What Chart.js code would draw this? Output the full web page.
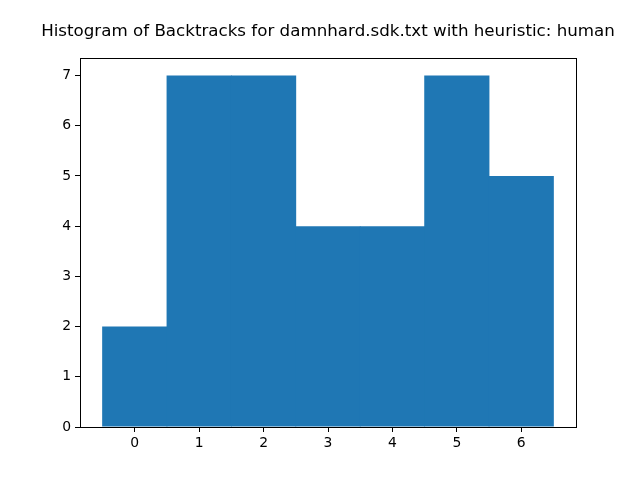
<!DOCTYPE html>
<html>
<head>
<meta charset="utf-8">
<script src="https://cdn.jsdelivr.net/npm/chart.js@4"></script>
<style>
  body { margin: 0; background: #fff; }
</style>
</head>
<body>
<canvas id="myChart" width="640" height="480"></canvas>
<script>
const bins = [0, 1, 2, 3, 4, 5, 6];
const counts = [2, 7, 7, 4, 4, 7, 5];
const yTicks = [0, 1, 2, 3, 4, 5, 6, 7];
const titleText = 'Histogram of Backtracks for damnhard.sdk.txt with heuristic: human';

// box round the axes and a title centred over the plot, like matplotlib
const frame = {
  id: 'frame',
  afterDraw(chart) {
    const a = chart.chartArea;
    const c = chart.ctx;
    c.save();
    c.strokeStyle = '#000';
    c.lineWidth = 1;
    c.strokeRect(Math.round(a.left) + 0.5, Math.round(a.top) + 0.5,
                 Math.round(a.right - a.left), Math.round(a.bottom - a.top));
    c.fillStyle = '#000';
    c.font = '16.7px "DejaVu Sans"';
    c.textAlign = 'center';
    c.textBaseline = 'middle';
    c.fillText(titleText, (a.left + a.right) / 2, 32);
    c.restore();
  }
};

const ctx = document.getElementById('myChart');
new Chart(ctx, {
  type: 'bar',
  data: {
    datasets: [{
      data: bins.map((b, i) => ({ x: b, y: counts[i] })),
      backgroundColor: '#1f77b4',
      borderWidth: 0,
      inflateAmount: 0,
      // a hair over 1 so neighbouring bars overlap and leave no seam
      barPercentage: 1.012,
      categoryPercentage: 1
    }]
  },
  options: {
    responsive: false,
    animation: false,
    devicePixelRatio: 1,
    layout: { padding: { left: 0, right: 64, top: 58, bottom: 0 } },
    plugins: {
      legend: { display: false },
      tooltip: { enabled: false },
      title: { display: false }
    },
    scales: {
      x: {
        type: 'linear',
        offset: false,
        min: -0.85,
        max: 6.85,
        afterBuildTicks: s => { s.ticks = bins.map(v => ({ value: v })); },
        afterFit: s => { s.height = 53; },
        grid: { offset: false, drawOnChartArea: false, drawTicks: true, tickLength: 5, color: '#000' },
        border: { display: true, color: '#000' },
        ticks: {
          color: '#000',
          padding: 3,
          maxRotation: 0,
          font: { family: 'DejaVu Sans', size: 13.9 }
        }
      },
      y: {
        min: 0,
        max: 7.35,
        afterBuildTicks: s => { s.ticks = yTicks.map(v => ({ value: v })); },
        afterFit: s => { s.width = 80; },
        grid: { drawOnChartArea: false, drawTicks: true, tickLength: 5, color: '#000' },
        border: { display: true, color: '#000' },
        ticks: {
          color: '#000',
          padding: 4,
          font: { family: 'DejaVu Sans', size: 13.9 }
        }
      }
    }
  },
  plugins: [frame]
});
</script>
</body>
</html>
